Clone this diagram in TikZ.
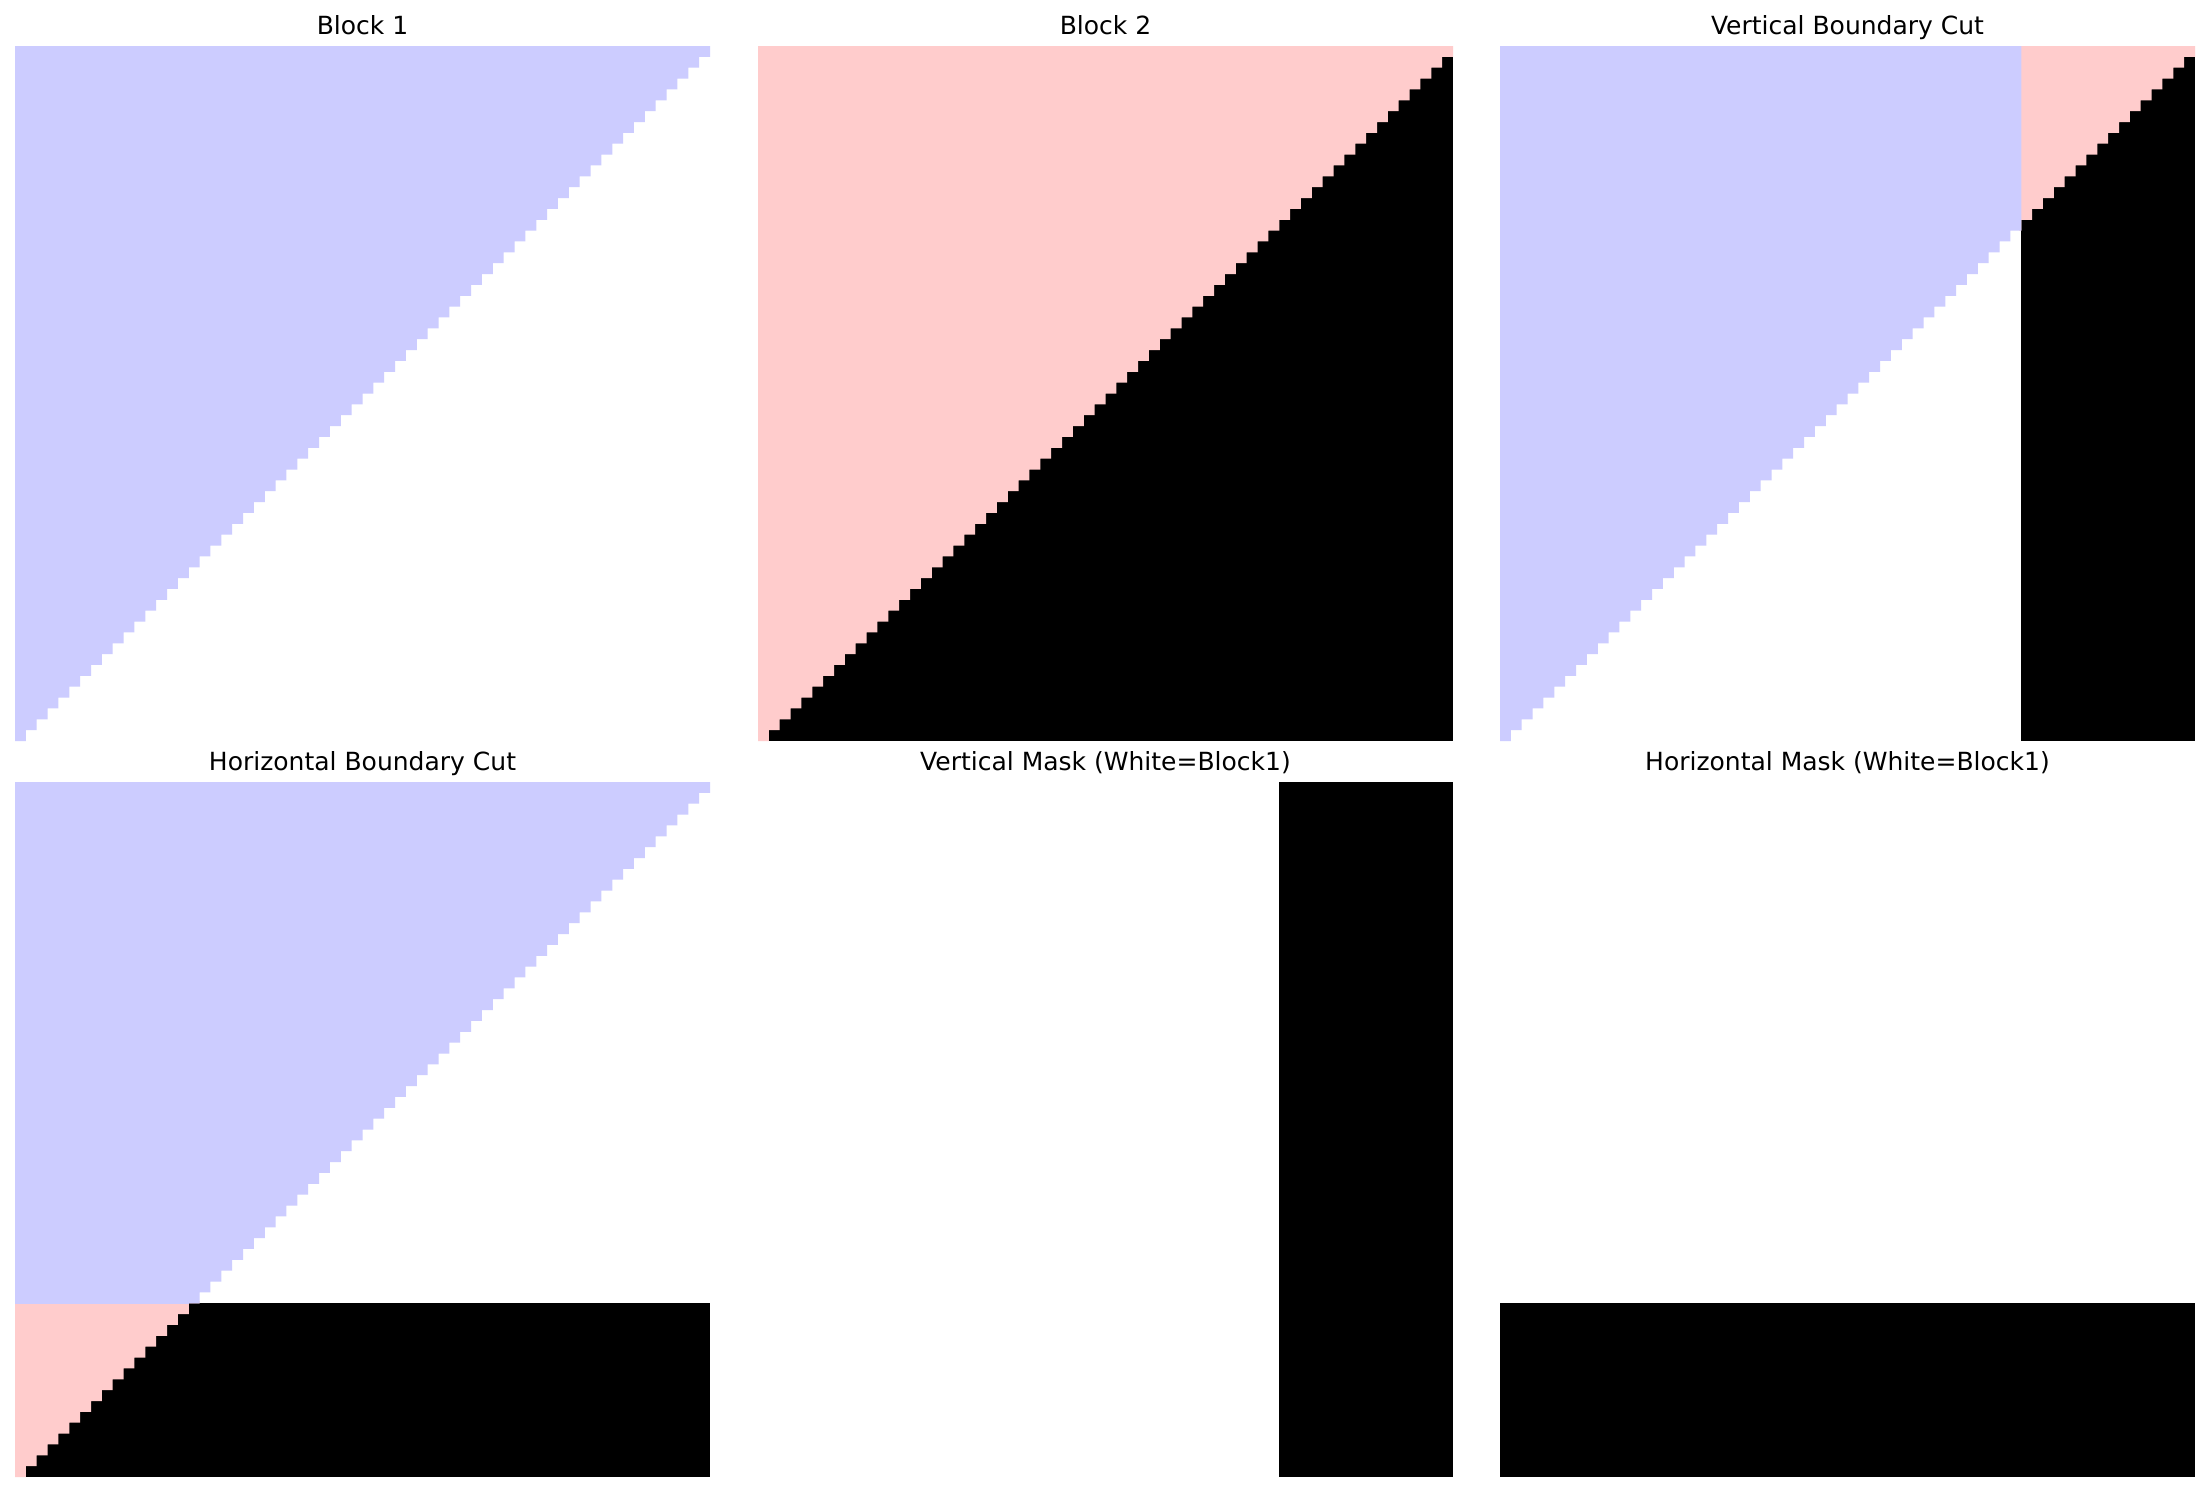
\documentclass[tikz,border=0pt]{standalone}
\usepackage{fontspec}
\newfontfamily\dvsans{DejaVu Sans}
\definecolor{blk1}{RGB}{204,204,255}
\definecolor{blk2}{RGB}{255,204,204}
\newcommand\stairfill[1]{\fill[#1] (0,0) -- (64,0) \foreach \i in {1,...,63}{ -- ({65-\i},\i) -- ({64-\i},\i) } -- (1,64) -- (0,64) -- cycle;}
\tikzset{
  paneltitle/.style={anchor=base, inner sep=0pt, font=\dvsans\fontsize{25}{30}\selectfont, text=black},
  pixgrid/.style={x=10.859375pt, y=-10.859375pt}
}
\begin{document}
\begin{tikzpicture}[x=1pt,y=-1pt]
\useasboundingbox[fill=white] (0,0) rectangle (2209,1492);
% titles
\node[paneltitle] (t1) at (362.5,34) {Block 1};
\node[paneltitle] (t2) at (1105.5,34) {Block 2};
\node[paneltitle] (t3) at (1847.5,34) {Vertical Boundary Cut};
\node[paneltitle] (t4) at (362.5,770) {Horizontal Boundary Cut};
\node[paneltitle] (t5) at (1105.5,770) {Vertical Mask (White=Block1)};
\node[paneltitle] (t6) at (1847.5,770) {Horizontal Mask (White=Block1)};
% panel 1: Block 1
\begin{scope}[shift={(15pt,-46pt)}, pixgrid]
  \stairfill{blk1}
\end{scope}
% panel 2: Block 2
\begin{scope}[shift={(758pt,-46pt)}, pixgrid]
  \fill[black] (0,0) rectangle (64,64);
  \stairfill{blk2}
\end{scope}
% panel 3: vertical cut
\begin{scope}[shift={(1500pt,-46pt)}, pixgrid]
  \begin{scope}
    \clip (47.8,0) rectangle (64,64);
    \fill[black] (48,0) rectangle (64,64);
    \stairfill{blk2}
  \end{scope}
  \begin{scope}
    \clip (0,0) rectangle (48,64);
    \stairfill{blk1}
  \end{scope}
\end{scope}
% panel 4: horizontal cut
\begin{scope}[shift={(15pt,-782pt)}, pixgrid]
  \begin{scope}
    \clip (0,47.8) rectangle (64,64);
    \fill[black] (0,48) rectangle (64,64);
    \stairfill{blk2}
  \end{scope}
  \begin{scope}
    \clip (0,0) rectangle (64,48);
    \stairfill{blk1}
  \end{scope}
\end{scope}
% panel 5: vertical mask
\begin{scope}[shift={(758pt,-782pt)}, pixgrid]
  \fill[black] (48,0) rectangle (64,64);
\end{scope}
% panel 6: horizontal mask
\begin{scope}[shift={(1500pt,-782pt)}, pixgrid]
  \fill[black] (0,48) rectangle (64,64);
\end{scope}
\end{tikzpicture}
\end{document}
